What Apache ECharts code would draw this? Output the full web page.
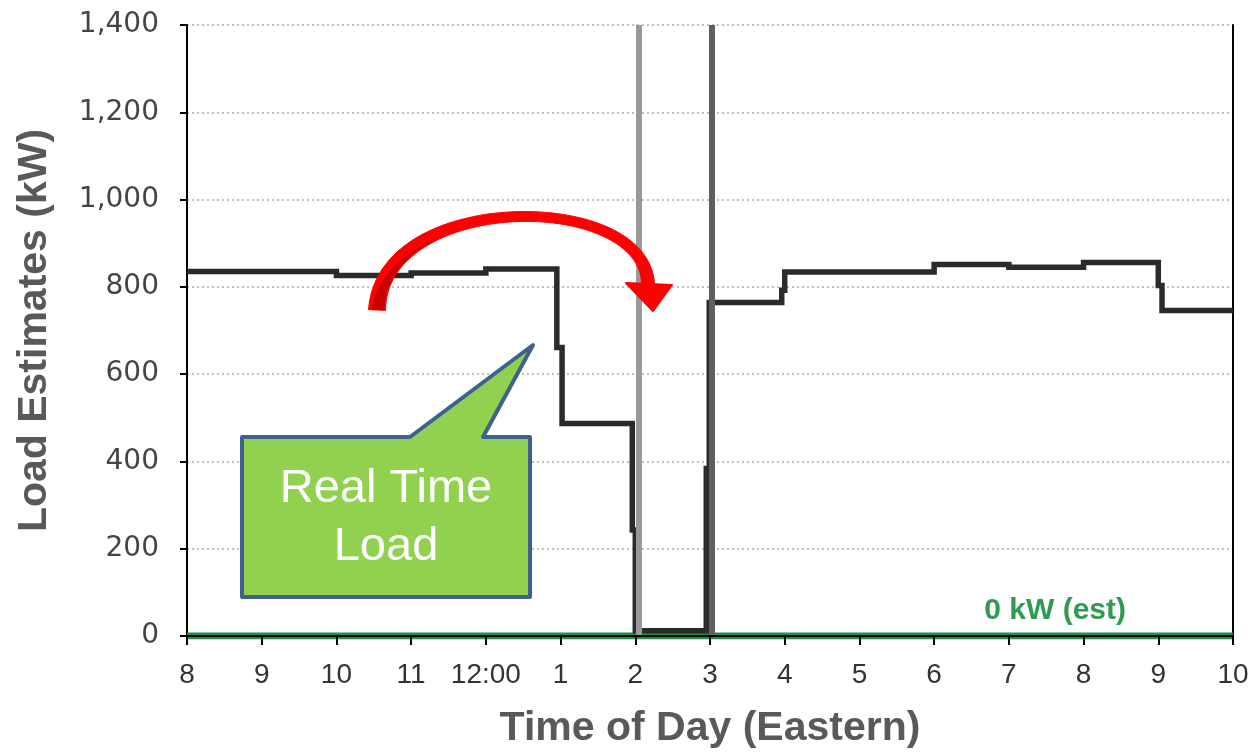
<!DOCTYPE html>
<html>
<head>
<meta charset="utf-8">
<script src="https://cdn.jsdelivr.net/npm/echarts@6/dist/echarts.min.js"></script>
<style>
html,body{margin:0;padding:0;background:#fff;}
#chart{width:1251px;height:752px;}
</style>
</head>
<body>
<div id="chart"></div>
<script>
// Real-time load (step series): hour of day, kW
var loadTimes = [8, 10, 11, 12, 12.95, 13.02, 13.96, 14.0, 14.95, 14.99, 15.96, 16.0, 18.0, 19.0, 20.0, 21.0, 21.05, 22.0];
var loadValues = [835, 826, 832, 841, 661, 487, 243, 12, 384, 764, 792, 834, 851, 845, 856, 803, 746, 746];
// Estimated load (flat at 0 kW)
var estTimes = [8, 22];
var estValues = [0, 0];
// Outage markers (hour of day)
var outageStart = 14.04;
var outageEnd = 15.02;
// Axis tick labels
var hourLabels = ['8', '9', '10', '11', '12:00', '1', '2', '3', '4', '5', '6', '7', '8', '9', '10'];
var estLabel = '0 kW (est)';
var estLabelHour = 19.62;

var chart = echarts.init(document.getElementById('chart'), null, {renderer: 'canvas'});

function pairs(xs, ys) { return xs.map(function (x, i) { return [x, ys[i]]; }); }

// Decorative curved arrow (annotation shape, pixel space)
var P = [[377, 310], [382, 190], [645, 190], [648, 284]];
function bez(t) {
  var a = (1 - t) * (1 - t) * (1 - t), b = 3 * t * (1 - t) * (1 - t), c = 3 * t * t * (1 - t), d = t * t * t;
  return [a * P[0][0] + b * P[1][0] + c * P[2][0] + d * P[3][0], a * P[0][1] + b * P[1][1] + c * P[2][1] + d * P[3][1]];
}
function bezD(t) {
  var a = -3 * (1 - t) * (1 - t), b = 3 * (1 - t) * (1 - t) - 6 * t * (1 - t), c = 6 * t * (1 - t) - 3 * t * t, d = 3 * t * t;
  var dx = a * P[0][0] + b * P[1][0] + c * P[2][0] + d * P[3][0];
  var dy = a * P[0][1] + b * P[1][1] + c * P[2][1] + d * P[3][1];
  var L = Math.sqrt(dx * dx + dy * dy);
  return [-dy / L, dx / L];
}
function halfW(t) { return 8.5 - 12 * t + 10 * t * t; }
function offsetPt(t, off) { var p = bez(t), n = bezD(t); return [p[0] + n[0] * off, p[1] + n[1] * off]; }
var N = 60, left = [], right = [], i, t;
for (i = 0; i <= N; i++) { t = i / N; left.push(offsetPt(t, -halfW(t))); right.push(offsetPt(t, halfW(t))); }
var arrowBody = left.concat(right.reverse());
var sA = [], sB = [];
for (i = 0; i <= 30; i++) {
  t = 0.3 * i / 30; var s = i / 30, w = halfW(t);
  sA.push(offsetPt(t, (-w + 3) * (1 - s) + (w - 1) * s));
  sB.push(offsetPt(t, w - 1));
}
var stripe = sA.concat(sB.reverse());

var option = {
  animation: false,
  backgroundColor: '#ffffff',
  grid: {left: 187, right: 18, top: 25, bottom: 116, containLabel: false, outerBoundsMode: 'none'},
  xAxis: {
    type: 'value', min: 8, max: 22, interval: 1, z: 5,
    name: 'Time of Day (Eastern)', nameLocation: 'middle', nameGap: 72,
    nameTextStyle: {fontFamily: 'Liberation Sans, Arial', fontWeight: 'bold', fontSize: 41, color: '#595959'},
    axisLine: {show: true, lineStyle: {color: '#000', width: 2}},
    axisTick: {show: true, length: 9, lineStyle: {color: '#000', width: 2}},
    axisLabel: {
      margin: 25,
      fontFamily: 'Liberation Sans, Arial', fontSize: 28, color: '#333',
      formatter: function (v) { return hourLabels[Math.round(v - 8)]; }
    },
    splitLine: {show: false}
  },
  yAxis: [{
    type: 'value', min: 0, max: 1400, interval: 200,
    name: 'Load Estimates (kW)', nameLocation: 'middle', nameGap: 132, nameRotate: 90,
    nameTextStyle: {fontFamily: 'Liberation Sans, Arial', fontWeight: 'bold', fontSize: 41, color: '#595959'},
    axisLine: {show: true, lineStyle: {color: '#000', width: 2}},
    axisTick: {show: true, length: 7, lineStyle: {color: '#000', width: 2}},
    axisLabel: {
      margin: 28,
      fontFamily: 'DejaVu Sans', fontSize: 28, color: '#444',
      formatter: function (v) { return v.toLocaleString('en-US'); }
    },
    splitLine: {show: true, lineStyle: {color: '#aaa', type: [2, 3], width: 1.5}}
  }, {
    type: 'value', min: 0, max: 1400, interval: 200, position: 'right',
    axisLine: {show: true, lineStyle: {color: '#000', width: 2}},
    axisTick: {show: false}, axisLabel: {show: false}, splitLine: {show: false}
  }],
  series: [
    {
      name: 'Outage', type: 'line', data: [], silent: true,
      markLine: {
        symbol: 'none', silent: true, label: {show: false},
        data: [
          {xAxis: outageStart, lineStyle: {color: '#999', width: 6, type: 'solid'}},
          {xAxis: outageEnd, lineStyle: {color: '#5f5f5f', width: 6, type: 'solid'}}
        ]
      }
    },
    {
      name: 'Estimate', type: 'line', data: pairs(estTimes, estValues),
      showSymbol: false, lineStyle: {color: '#238c48', width: 7}, z: 3,
      markPoint: {
        symbol: 'circle', symbolSize: 0,
        label: {show: true, formatter: estLabel, offset: [0, -25], fontFamily: 'Liberation Sans, Arial', fontWeight: 'bold', fontSize: 30, color: '#2e9a52'},
        data: [{coord: [estLabelHour, 0]}]
      }
    },
    {
      name: 'Real Time Load', type: 'line', step: 'end', data: pairs(loadTimes, loadValues),
      showSymbol: false, lineStyle: {color: '#2b2b2b', width: 5.5, join: 'miter'}, z: 4
    }
  ],
  graphic: [
    {
      type: 'polygon', z: 100,
      shape: {points: [[242, 437], [410, 437], [533, 345], [483, 437], [530, 437], [530, 597], [242, 597]]},
      style: {fill: '#92d050', stroke: '#3e6190', lineWidth: 4, lineJoin: 'round'}
    },
    {
      type: 'text', z: 101, x: 386, y: 460,
      style: {text: 'Real Time\nLoad', align: 'center', fill: '#fff', fontFamily: 'Liberation Sans, Arial', fontSize: 47, lineHeight: 58}
    },
    {
      type: 'polygon', z: 100,
      shape: {points: arrowBody},
      style: {fill: '#ff0000', stroke: '#ff0000', lineWidth: 1}
    },
    {
      type: 'polygon', z: 101,
      shape: {points: stripe},
      style: {fill: '#c80000'}
    },
    {
      type: 'polygon', z: 100,
      shape: {points: [[626, 283], [672, 285], [653, 311]]},
      style: {fill: '#ff0000', stroke: '#ff0000', lineWidth: 2, lineJoin: 'round'}
    }
  ]
};
chart.setOption(option);
</script>
</body>
</html>
